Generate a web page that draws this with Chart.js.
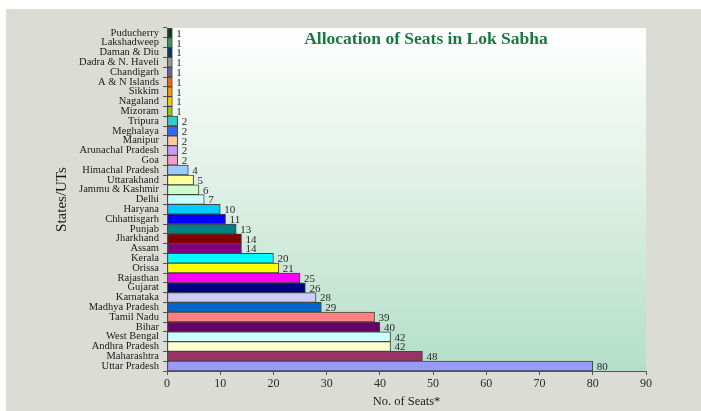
<!DOCTYPE html>
<html>
<head>
<meta charset="utf-8">
<script src="https://cdn.jsdelivr.net/npm/chart.js@4.4.0/dist/chart.umd.min.js"></script>
<style>
  html, body { margin: 0; padding: 0; background: #ffffff; }
  #panel { position: absolute; left: 6px; top: 9px; width: 695px; height: 402px; background: #dcdcd7; }
  #chart { display: block; }
</style>
</head>
<body>
<div id="panel"><canvas id="chart" width="695" height="402"></canvas></div>
<script>
const states = [
  'Puducherry', 'Lakshadweep', 'Daman & Diu', 'Dadra & N. Haveli', 'Chandigarh',
  'A & N Islands', 'Sikkim', 'Nagaland', 'Mizoram', 'Tripura', 'Meghalaya',
  'Manipur', 'Arunachal Pradesh', 'Goa', 'Himachal Pradesh', 'Uttarakhand',
  'Jammu & Kashmir', 'Delhi', 'Haryana', 'Chhattisgarh', 'Punjab', 'Jharkhand',
  'Assam', 'Kerala', 'Orissa', 'Rajasthan', 'Gujarat', 'Karnataka',
  'Madhya Pradesh', 'Tamil Nadu', 'Bihar', 'West Bengal', 'Andhra Pradesh',
  'Maharashtra', 'Uttar Pradesh'
];
const seats = [1, 1, 1, 1, 1, 1, 1, 1, 1, 2, 2, 2, 2, 2, 4, 5, 6, 7, 10, 11, 13, 14,
  14, 20, 21, 25, 26, 28, 29, 39, 40, 42, 42, 48, 80];
const barColors = [
  '#0b3d12', '#339966', '#003366', '#999999', '#666699',
  '#ff6600', '#ff9900', '#ffcc00', '#99cc00', '#33cccc', '#3366ff',
  '#ffcc99', '#cc99ff', '#ff99cc', '#99ccff', '#ffff99',
  '#ccffcc', '#ccffff', '#00ccff', '#0000ff', '#008080', '#800000',
  '#800080', '#00ffff', '#ffff00', '#ff00ff', '#000080', '#ccccff',
  '#0066cc', '#ff8080', '#660066', '#ccffff', '#ffffcc',
  '#993366', '#9999ff'
];
const xTicks = [0, 10, 20, 30, 40, 50, 60, 70, 80, 90];

const serif = '"Liberation Serif", "Times New Roman", serif';

// plot background gradient + title + value labels
const decor = {
  id: 'decor',
  beforeDraw(chart) {
    const { ctx, chartArea: a } = chart;
    const g = ctx.createLinearGradient(0, a.top, 0, a.bottom);
    g.addColorStop(0, '#ffffff');
    g.addColorStop(0.45, '#e0f0e6');
    g.addColorStop(1, '#b3dfc8');
    ctx.save();
    ctx.fillStyle = g;
    ctx.fillRect(a.left, a.top, a.right - a.left, a.bottom - a.top);
    ctx.restore();
  },
  afterDatasetsDraw(chart) {
    const { ctx, chartArea: a } = chart;
    ctx.save();
    ctx.font = '11px ' + serif;
    ctx.fillStyle = '#2a2a2a';
    ctx.textBaseline = 'middle';
    ctx.textAlign = 'left';
    chart.getDatasetMeta(0).data.forEach((bar, i) => {
      ctx.fillText(String(seats[i]), bar.x + 4, bar.y + 1);
    });
    ctx.font = 'bold 17.5px ' + serif;
    ctx.fillStyle = '#17793f';
    ctx.textAlign = 'center';
    ctx.fillText('Allocation of Seats in Lok Sabha', 420, a.top + 11);
    ctx.restore();
  }
};

new Chart(document.getElementById('chart'), {
  type: 'bar',
  data: {
    labels: states,
    datasets: [{
      data: seats,
      backgroundColor: barColors,
      borderColor: '#444444',
      borderWidth: 1,
      borderSkipped: false,
      categoryPercentage: 1,
      barPercentage: 1
    }]
  },
  options: {
    indexAxis: 'y',
    responsive: false,
    animation: false,
    layout: { padding: { left: 40, right: 55, top: 19, bottom: 0 } },
    plugins: {
      legend: { display: false },
      tooltip: { enabled: false },
      title: { display: false }
    },
    scales: {
      x: {
        min: 0,
        max: 90,
        afterBuildTicks: (s) => { s.ticks = xTicks.map(v => ({ value: v })); },
        afterFit: (s) => { s.height = 40; },
        grid: { drawOnChartArea: false, drawTicks: true, tickLength: 4, color: '#555555' },
        border: { color: '#555555' },
        ticks: { color: '#2a2a2a', padding: 2, font: { family: serif, size: 12 } },
        title: {
          display: true,
          text: 'No. of Seats*',
          color: '#1a1a1a',
          padding: { top: 0, bottom: 2 },
          font: { family: serif, size: 12.5 }
        }
      },
      y: {
        afterFit: (s) => { s.width = 121; },
        grid: { drawOnChartArea: false, drawTicks: true, tickLength: 4, color: '#555555' },
        border: { color: '#555555' },
        ticks: { color: '#1a1a1a', padding: 4, autoSkip: false, font: { family: serif, size: 10.5 } },
        title: {
          display: true,
          text: 'States/UTs',
          color: '#1a1a1a',
          padding: { top: 7, bottom: 0 },
          font: { family: serif, size: 15 }
        }
      }
    }
  },
  plugins: [decor]
});
</script>
</body>
</html>
